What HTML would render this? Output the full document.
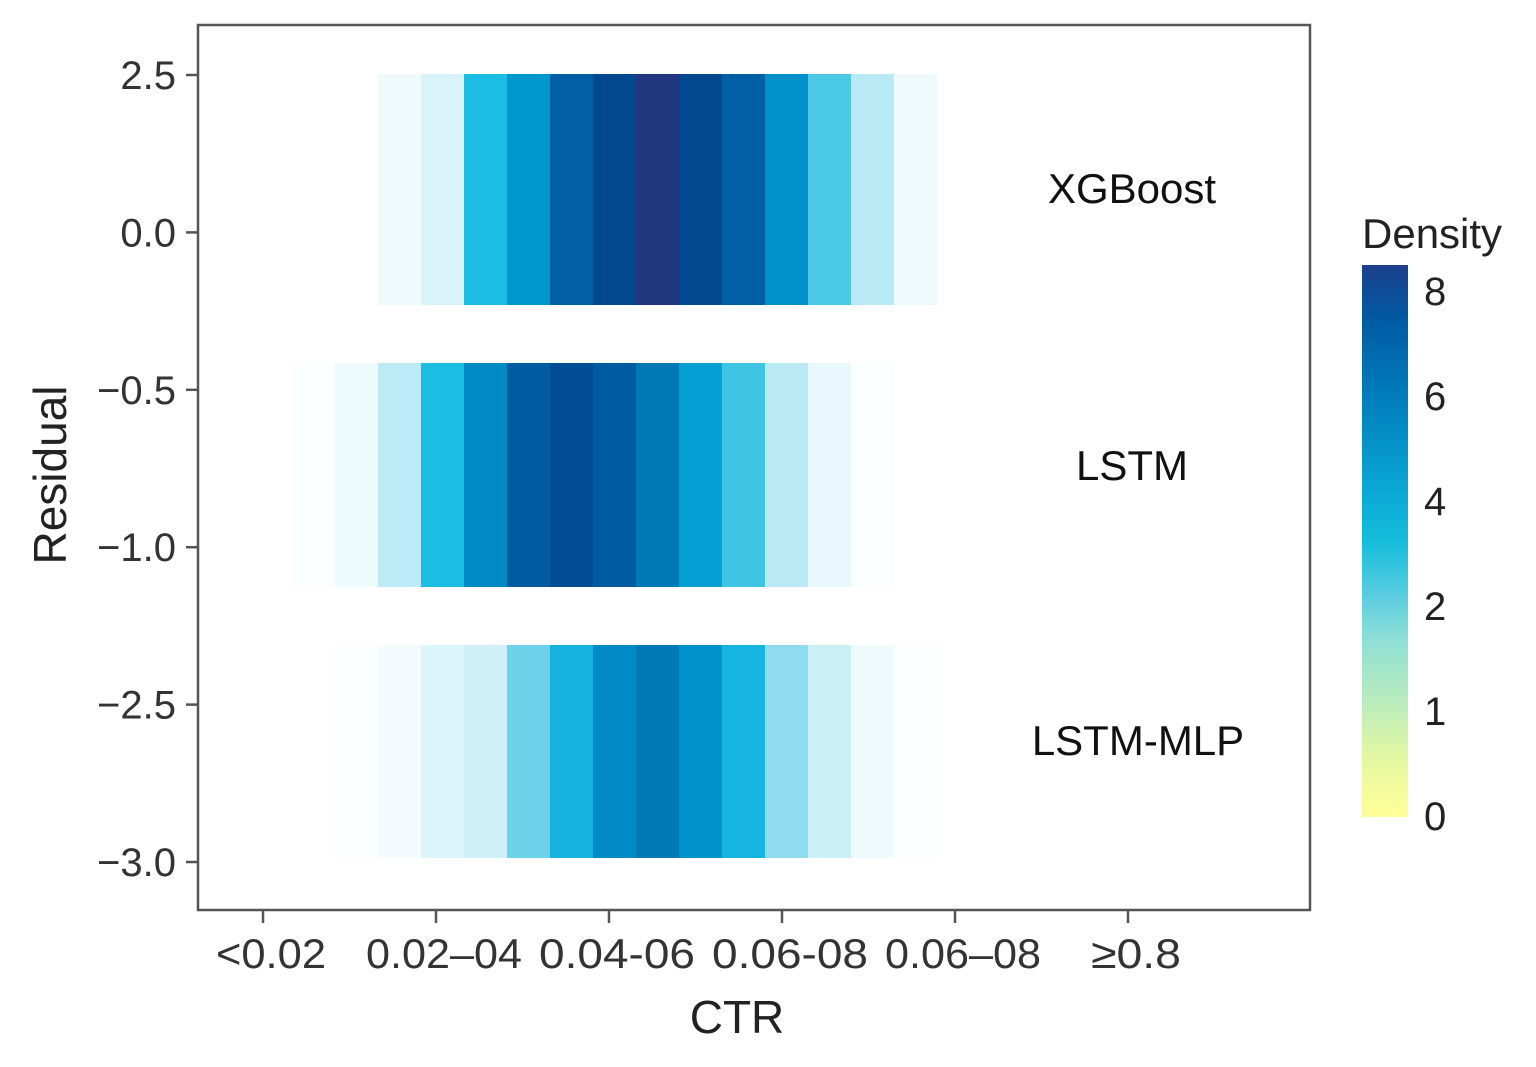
<!DOCTYPE html>
<html><head><meta charset="utf-8"><style>
html,body{margin:0;padding:0;background:#fff;}
svg{display:block;font-family:"Liberation Sans",Arial,sans-serif;}
</style></head><body>
<svg id="chart" width="1536" height="1067" viewBox="0 0 1536 1067" xmlns="http://www.w3.org/2000/svg">
<defs>
<linearGradient id="cbar" x1="0" y1="1" x2="0" y2="0">
<stop offset="0" stop-color="#ffff99"/>
<stop offset="0.1" stop-color="#e6f8a0"/>
<stop offset="0.2" stop-color="#bdedbb"/>
<stop offset="0.32" stop-color="#8fe0d6"/>
<stop offset="0.4" stop-color="#5bcde0"/>
<stop offset="0.5" stop-color="#14bddb"/>
<stop offset="0.6" stop-color="#0aa6d4"/>
<stop offset="0.75" stop-color="#0080bd"/>
<stop offset="0.9" stop-color="#005ba3"/>
<stop offset="1" stop-color="#1d3f8c"/>
</linearGradient>
</defs>
<g id="cells"></g>
<rect x="198" y="25" width="1112" height="885" fill="none" stroke="#555" stroke-width="2.5"/>
<g id="yaxis"></g>
<g id="xaxis"></g>
<text x="737" y="1033" font-size="46" text-anchor="middle" fill="#222">CTR</text>
<text transform="translate(66,475) rotate(-90)" font-size="46" text-anchor="middle" fill="#222">Residual</text>
<g id="rowlabels"></g>
<g>
<text x="1362" y="248" font-size="42" fill="#222">Density</text>
<rect x="1362" y="265" width="46" height="552" fill="url(#cbar)"/>
<g id="cbticks"></g>
</g>
</svg>
<script>
const models = ["XGBoost", "LSTM", "LSTM-MLP"];
const xgboostDensity = [0, 0, 0.4, 1.0, 3.0, 4.0, 6.0, 7.0, 8.0, 7.0, 6.0, 4.2, 2.6, 1.8, 0.4, 0];
const lstmDensity = [0.1, 0.5, 1.7, 3.0, 4.4, 6.2, 6.8, 6.2, 5.0, 3.8, 2.7, 1.8, 0.6, 0.1, 0, 0];
const lstmMlpDensity = [0, 0.1, 0.3, 0.9, 1.2, 2.4, 3.3, 4.4, 5.0, 4.2, 3.2, 2.2, 1.3, 0.4, 0.1, 0];
const yTickLabels = ["2.5", "0.0", "\u22120.5", "\u22121.0", "\u22122.5", "\u22123.0"];
const xTickLabels = ["<0.02", "0.02\u201304", "0.04-06", "0.06-08", "0.06\u201308", "\u22650.8"];
const cbTickLabels = ["0", "1", "2", "4", "6", "8"];
const cbTickValues = [0, 1, 2, 4, 6, 8];

const NS = "http://www.w3.org/2000/svg";
function mk(tag, attrs, parent){const e=document.createElementNS(NS,tag);for(const k in attrs)e.setAttribute(k,attrs[k]);parent.appendChild(e);return e;}
// scales
const binX = i => 292 + i * 43;
const binW = 43.2;
const yTickY = i => 75 + i * 157.4;
const xTickX = i => 263 + i * 173;
const rowTop = [74, 363, 645];
const rowBottom = [305, 587, 858];
const stops = [[0,[255,255,255]],[1,[216,243,250]],[2,[176,230,244]],[2.6,[75,200,227]],[3,[28,189,227]],[4,[0,151,207]],[5,[0,121,181]],[6,[0,95,165]],[7,[0,73,143]],[8,[34,53,127]]];
function color(v){
  if(v<=0) return "rgb(255,255,255)";
  for(let i=1;i<stops.length;i++){
    if(v<=stops[i][0]){const [a,ca]=stops[i-1],[b,cb]=stops[i];const t=(v-a)/(b-a);
      return "rgb("+ca.map((c,j)=>Math.round(c+(cb[j]-c)*t)).join(",")+")";}
  }
  return "rgb(34,53,127)";
}
const series = [xgboostDensity, lstmDensity, lstmMlpDensity];
const cells = document.getElementById("cells");
series.forEach((arr, r) => {
  arr.forEach((v, i) => {
    if (v <= 0) return;
    const rc = mk("rect", {x: binX(i), y: rowTop[r], width: binW, height: rowBottom[r]-rowTop[r], fill: color(v)}, cells);
    
    
  });
});
const ya = document.getElementById("yaxis");
yTickLabels.forEach((l, i) => {
  const y = yTickY(i);
  const t = mk("line", {x1: 186, x2: 198, y1: y, y2: y, stroke: "#555", "stroke-width": 2.5}, ya);
  
  
  const tx = mk("text", {x: 176, y: y + 14, "font-size": 40, "text-anchor": "end", fill: "#333"}, ya);
  
  
  tx.textContent = l;
});
const xa = document.getElementById("xaxis");
xTickLabels.forEach((l, i) => {
  const x = xTickX(i);
  const t = mk("line", {x1: x, x2: x, y1: 910, y2: 923, stroke: "#555", "stroke-width": 2.5}, xa);
  
  
  const tx = mk("text", {x: x + 8, y: 968, "font-size": 42, "text-anchor": "middle", fill: "#333", "textLength": l.length > 5 ? 156 : (l.length===5?110:90), "lengthAdjust": "spacingAndGlyphs"}, xa);
  
  
  tx.textContent = l;
});
const rl = document.getElementById("rowlabels");
const labelPos = [[1132, 203], [1132, 480], [1138, 755]];
models.forEach((m, i) => {
  const tx = mk("text", {x: labelPos[i][0], y: labelPos[i][1], "font-size": 42, "text-anchor": "middle", fill: "#111"}, rl);
  
  
  tx.textContent = m;
});
const cb = document.getElementById("cbticks");
cbTickLabels.forEach((l, i) => {
  const y = 815 - i * 105;
  const tx = mk("text", {x: 1424, y: y + 15, "font-size": 40, fill: "#222"}, cb);
  
  
  tx.textContent = l;
});
</script>
</body></html>
